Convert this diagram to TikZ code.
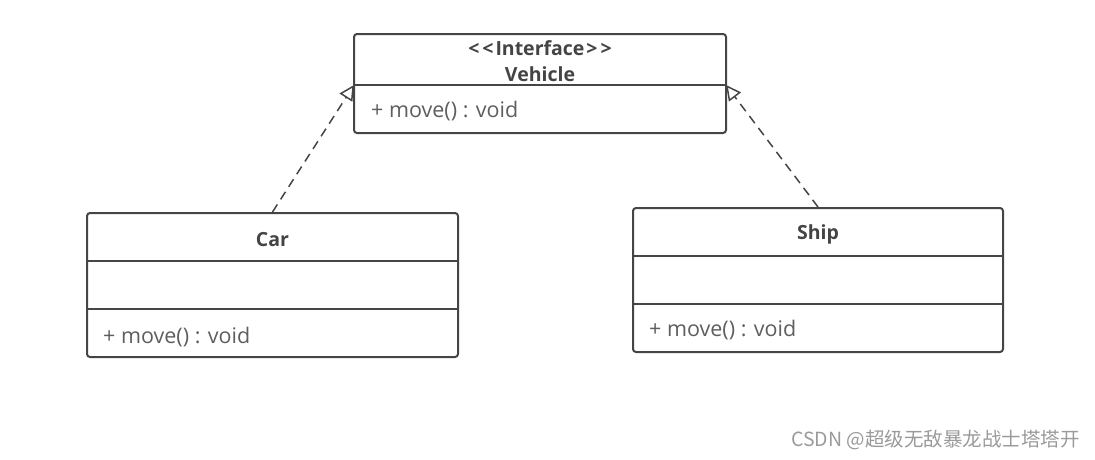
\documentclass[tikz,border=0pt]{standalone}
\usepackage{fontspec}
\setmainfont{Open Sans}
\newfontfamily\cjk{Noto Sans CJK SC}
\usetikzlibrary{arrows.meta}
\definecolor{linec}{HTML}{454545}
\definecolor{txtc}{HTML}{5E5E5E}
\definecolor{titc}{HTML}{444444}
\definecolor{wmc}{HTML}{9A9A9A}
\tikzset{
  classbox/.style={draw=linec, line width=2pt, rounded corners=3pt, inner sep=0pt, fill=none},
  divider/.style={draw=linec, line width=2pt},
  title/.style={font=\bfseries\fontsize{19.5}{22}\selectfont, text=titc, inner sep=0pt},
  member/.style={font=\fontsize{21.5}{24}\selectfont, text=txtc, inner sep=0pt, anchor=west},
  realize/.style={draw=linec, line width=1.5pt, dash pattern=on 9pt off 6pt, -{Triangle[open, length=15pt, width=15pt, line width=1.5pt]}},
}
\begin{document}
\begin{tikzpicture}[x=1pt, y=-1pt]
\useasboundingbox (0,0) rectangle (1095,459);
% Vehicle
\node[classbox, minimum width=372pt, minimum height=99pt] (veh) at (540,83.5) {};
\coordinate (vehL) at (354,85);
\coordinate (vehR) at (726,85);
\draw[divider] (vehL) -- (vehR);
\node[title] (vehst) at (540,48) {{<}\kern3pt{<}\kern2pt Interface\kern2pt{>}\kern3pt{>}};
\node[title] (vehname) at (540,74) {Vehicle};
\node[member] (vehm) at (371,111) {+ move() : void};
% Car
\node[classbox, minimum width=371pt, minimum height=144pt] (car) at (272.5,285) {};
\draw[divider] (87,261) -- (458,261);
\draw[divider] (87,309) -- (458,309);
\node[title] (carname) at (272.5,240) {Car};
\node[member] (carm) at (103,337) {+ move() : void};
% Ship
\node[classbox, minimum width=370pt, minimum height=144pt] (ship) at (818,280) {};
\draw[divider] (633,256) -- (1003,256);
\draw[divider] (633,304) -- (1003,304);
\node[title] (shipname) at (818,234) {Ship};
\node[member] (shipm) at (649,330) {+ move() : void};
% realizations
\draw[realize] (car.north) -- (vehL);
\draw[realize] (ship.north) -- (vehR);
% watermark
\node[font=\cjk\fontsize{19.5}{22}\selectfont, text=wmc, anchor=east, inner sep=0pt] (wm) at (1080,440) {CSDN @超级无敌暴龙战士塔塔开};
\end{tikzpicture}
\end{document}
